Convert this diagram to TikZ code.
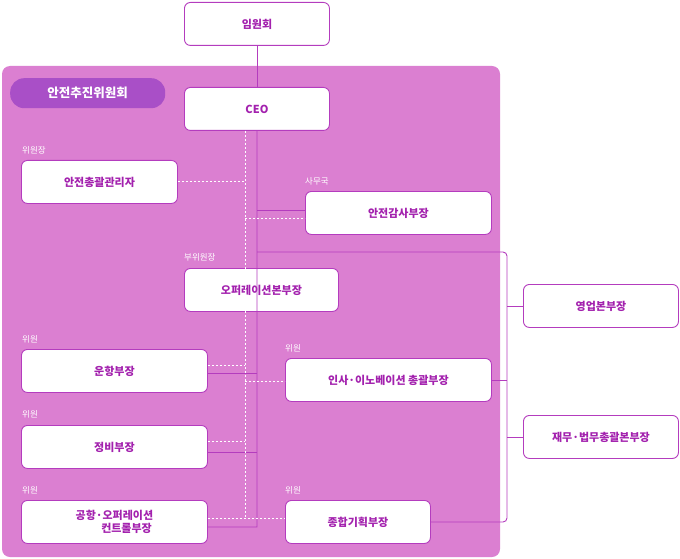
\documentclass[tikz,border=0pt]{standalone}
\usepackage{fontspec}
\setmainfont{Noto Sans CJK KR}
\definecolor{panel}{HTML}{DB7FD1}
\definecolor{edge}{HTML}{B43CBE}
\definecolor{pill}{HTML}{A94FC7}
\definecolor{ink}{HTML}{A321AE}
\begin{document}
\begin{tikzpicture}[x=1pt,y=-1pt]
\tikzstyle{member} = [rounded corners=6pt, draw=edge, fill=white, line width=0.9pt, text=ink, font=\bfseries\fontsize{11}{13}\selectfont, align=center, anchor=north west]
\tikzstyle{role} = [text=white, font=\fontsize{8.5}{10}\selectfont, anchor=west, inner sep=0pt]
\tikzstyle{link} = [draw=edge, line width=0.9pt]
\tikzstyle{dots} = [draw=white, line width=0.8pt, dash pattern=on 2pt off 2pt]
\useasboundingbox (0,0) rectangle (680,559);

\fill [panel, rounded corners=8pt] (2,66) rectangle (500,557);
\node (Committee) [fill=pill, rounded corners=14pt, text=white, font=\bfseries\fontsize{12.5}{14}\selectfont, minimum width=155pt, minimum height=30pt, anchor=north west] at (10,78) {안전추진위원회};

\node (Board) [member, minimum width=145pt, minimum height=43pt] at (184,2) {임원회};
\node (CEO) [member, minimum width=145pt, minimum height=43pt] at (184,87) {CEO};
\node (SafetyChief) [member, minimum width=156pt, minimum height=43pt] at (21,160) {안전총괄관리자};
\node (Audit) [member, minimum width=186pt, minimum height=43pt] at (305,191) {안전감사부장};
\node (Operations) [member, minimum width=154pt, minimum height=43pt] at (184,268) {오퍼레이션본부장};
\node (Flight) [member, minimum width=186pt, minimum height=43pt] at (21,349) {운항부장};
\node (HR) [member, minimum width=206pt, minimum height=43pt] at (285,358) {인사·이노베이션 총괄부장};
\node (Maint) [member, minimum width=186pt, minimum height=43pt] at (21,425) {정비부장};
\node (Airport) [member, minimum width=186pt, minimum height=43pt] at (21,500) {공항·오퍼레이션\\\hspace*{2.2em}컨트롤부장};
\node (Planning) [member, minimum width=145pt, minimum height=43pt] at (285,500) {종합기획부장};
\node (Sales) [member, minimum width=155pt, minimum height=43pt] at (523,284) {영업본부장};
\node (Finance) [member, minimum width=155pt, minimum height=43pt] at (523,415) {재무·법무총괄본부장};

\node (ChairTag) [role] at (22,150) {위원장};
\node (OfficeTag) [role] at (305,181) {사무국};
\node (ViceTag) [role] at (184,257) {부위원장};
\node (FlightTag) [role] at (22,339) {위원};
\node (HRTag) [role] at (285,348) {위원};
\node (MaintTag) [role] at (22,414) {위원};
\node (AirportTag) [role] at (22,490) {위원};
\node (PlanTag) [role] at (285,490) {위원};

% solid reporting lines
\draw [link] (Board.south) -- (CEO.north);
\draw [link] (CEO.south) -- (257,527) -- (Airport.east |- 0,527);
\draw [link] (257,210) -- (Audit.west |- 0,210);
\draw [link] (257,373) -- (Flight.east |- 0,373);
\draw [link] (257,452) -- (Maint.east |- 0,452);
\draw [link, rounded corners=4pt] (257,252) -- (507,252) -- (507,522) -- (Planning.east |- 0,522);
\draw [link] (507,306) -- (Sales.west |- 0,306);
\draw [link] (HR.east |- 0,380) -- (507,380);
\draw [link] (507,437) -- (Finance.west |- 0,437);

% committee lines
\draw [dots] (245,131) -- (245,518);
\draw [dots] (SafetyChief.east |- 0,181) -- (245,181);
\draw [dots] (245,218) -- (Audit.west |- 0,218);
\draw [dots] (Flight.east |- 0,365) -- (245,365);
\draw [dots] (245,381) -- (HR.west |- 0,381);
\draw [dots] (Maint.east |- 0,441) -- (245,441);
\draw [dots] (Airport.east |- 0,518) -- (Planning.west |- 0,518);

\end{tikzpicture}
\end{document}
